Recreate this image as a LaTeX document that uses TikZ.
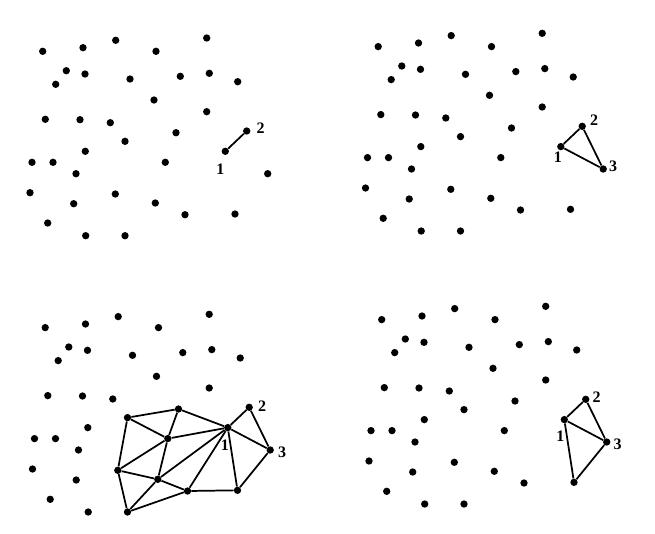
\documentclass[tikz,border=0pt]{standalone}
\usepackage{fontspec}
\setmainfont{Liberation Serif}
\usepackage{tikz}
\usetikzlibrary{calc}

% point set, same in every panel
\def\ptlist{1/42.7/51.3, 2/83/47.7, 3/115.7/40.3, 4/156/51.3, 5/206.7/38,
 6/66.3/70.7, 7/85/74, 8/55.7/84.3, 9/130/79, 10/180.3/76.3, 11/209.3/73.3,
 12/237.7/81.7, 13/154/100, 14/206.7/111.7, 15/45.3/119.3, 16/80/119.7,
 17/110.3/122.7, 18/176/132.7, 19/246.7/131, 20/125/141.3, 21/85.3/151.3,
 22/225.3/151.3, 23/32/162.3, 24/53/162.3, 25/165.3/162.3, 26/76/173.7,
 27/267.7/173.7, 28/30/192.7, 29/115.3/194, 30/73.7/203.7, 31/155.3/203,
 32/185/214.7, 33/235/214, 34/47.7/223, 35/85.7/235.7, 36/125/235.7}

\begin{document}
\begin{tikzpicture}[x=0.75pt,y=-0.75pt,
 dot/.style={circle,fill=black,inner sep=0pt,minimum size=5.5pt},
 edge/.style={line width=1.3pt,line join=round},
 num/.style={font=\fontsize{12}{14}\selectfont\bfseries,inner sep=0pt}]
\useasboundingbox (0,0) rectangle (655,533);

% top left
\begin{scope}[name prefix=a-]
\foreach \i/\x/\y in \ptlist \node[dot] (p\i) at (\x,\y) {};
\end{scope}
\draw[edge] (a-p22) -- (a-p19);
\node[num] (a-n1) at ($(a-p22)+(-5,18)$) {1};
\node[num] (a-n2) at ($(a-p19)+(14,-3)$) {2};

% top right
\begin{scope}[shift={(335.5,-4.7)},name prefix=b-]
\foreach \i/\x/\y in \ptlist \node[dot] (p\i) at (\x,\y) {};
\end{scope}
\draw[edge] (b-p22) -- (b-p19) -- (b-p27) -- (b-p22);
\node[num] (b-n1) at ($(b-p22)+(-3,11)$) {1};
\node[num] (b-n2) at ($(b-p19)+(12,-6)$) {2};
\node[num] (b-n3) at ($(b-p27)+(10,-3)$) {3};

% bottom left
\begin{scope}[shift={(2.5,276.3)},name prefix=c-]
\foreach \i/\x/\y in \ptlist \node[dot] (p\i) at (\x,\y) {};
\end{scope}
\foreach \u/\v in {20/18, 18/22, 20/25, 18/25, 25/22, 22/19, 19/27, 22/27,
 27/33, 22/33, 22/32, 22/31, 20/29, 25/29, 25/31, 29/31, 29/36, 31/36,
 31/32, 32/36, 32/33}
 \draw[edge] (c-p\u) -- (c-p\v);
\node[num] (c-n1) at ($(c-p22)+(-3,18)$) {1};
\node[num] (c-n2) at ($(c-p19)+(13,-1)$) {2};
\node[num] (c-n3) at ($(c-p27)+(12,2)$) {3};

% bottom right
\begin{scope}[shift={(339,268.3)},name prefix=d-]
\foreach \i/\x/\y in \ptlist \node[dot] (p\i) at (\x,\y) {};
\end{scope}
\draw[edge] (d-p22) -- (d-p19) -- (d-p27) -- (d-p22);
\draw[edge] (d-p22) -- (d-p33) -- (d-p27);
\node[num] (d-n1) at ($(d-p22)+(-4,17)$) {1};
\node[num] (d-n2) at ($(d-p19)+(11,-2)$) {2};
\node[num] (d-n3) at ($(d-p27)+(11,2)$) {3};
\end{tikzpicture}
\end{document}
